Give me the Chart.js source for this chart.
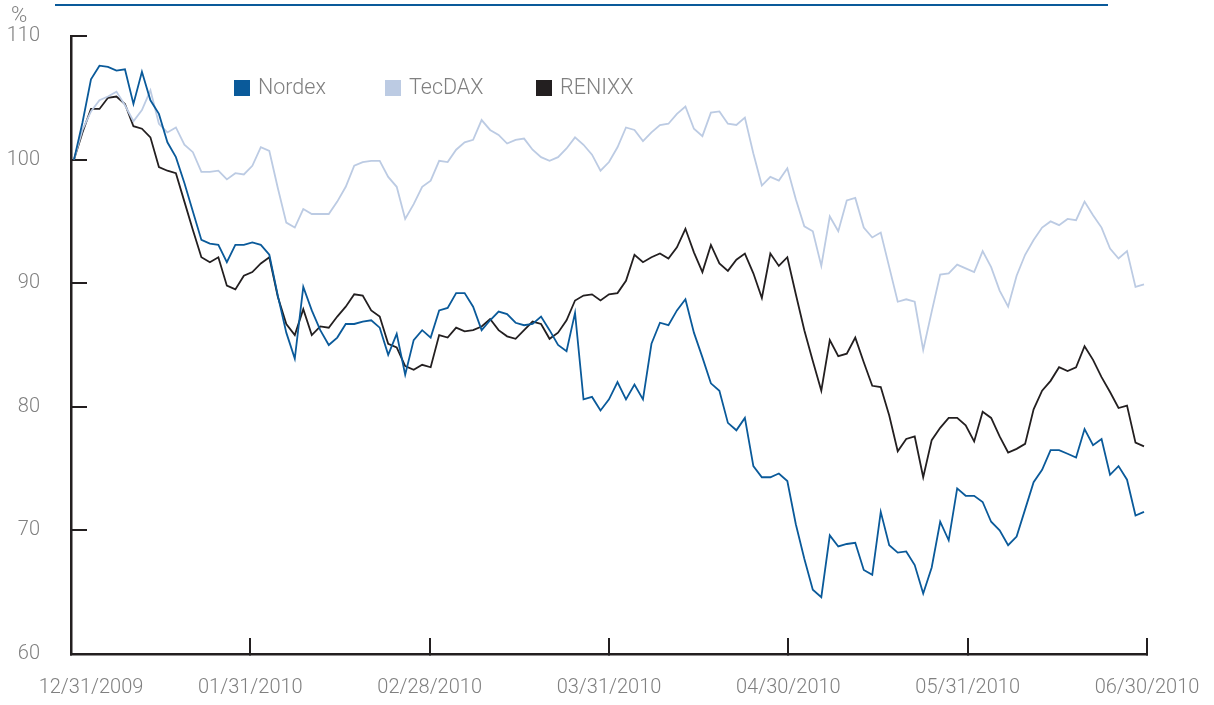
<!DOCTYPE html>
<html><head><meta charset="utf-8">
<script src="https://cdn.jsdelivr.net/npm/chart.js@4.4.1/dist/chart.umd.min.js"></script>
<style>html,body{margin:0;padding:0;background:#fff;}canvas{display:block;}</style>
</head><body>
<canvas id="c" width="1214" height="705"></canvas>
<script>
const xLabels = ['12/31/2009','01/31/2010','02/28/2010','03/31/2010','04/30/2010','05/31/2010','06/30/2010'];
const yTicks = [60,70,80,90,100,110];
const seriesNames = ['Nordex','TecDAX','RENIXX'];
const nordex = [100,103.0,106.5,107.6,107.5,107.2,107.3,104.5,107.1,104.8,103.7,101.4,100.2,98.1,95.8,93.5,93.2,93.1,91.7,93.1,
93.1,93.3,93.1,92.3,89.0,86.0,83.9,89.7,87.8,86.2,85.0,85.6,86.7,86.7,86.9,87.0,86.4,84.2,85.9,82.6,
85.4,86.2,85.6,87.8,88.0,89.2,89.2,88.1,86.2,87.0,87.7,87.5,86.8,86.6,86.7,87.3,86.2,85.0,84.5,87.6,
80.6,80.8,79.7,80.6,82.0,80.6,81.8,80.6,85.1,86.8,86.6,87.8,88.7,86.0,84.0,81.9,81.3,78.7,78.1,79.1,
75.2,74.3,74.3,74.6,74.0,70.5,67.7,65.2,64.6,69.6,68.7,68.9,69.0,66.8,66.4,71.5,68.8,68.2,68.3,67.2,
64.9,67.0,70.7,69.2,73.4,72.8,72.8,72.3,70.7,70.0,68.8,69.5,71.7,73.9,74.9,76.5,76.5,76.2,75.9,78.2,
76.9,77.4,74.5,75.2,74.1,71.2,71.5];
const tecdax = [100,102.4,103.9,104.8,105.1,105.5,104.4,103.1,104.0,105.6,102.9,102.2,102.6,101.2,100.6,99.0,99.0,99.1,98.4,98.9,
98.8,99.5,101.0,100.7,97.7,94.9,94.5,96.0,95.6,95.6,95.6,96.6,97.8,99.5,99.8,99.9,99.9,98.6,97.8,95.2,
96.4,97.8,98.3,99.9,99.8,100.8,101.4,101.6,103.2,102.4,102.0,101.3,101.6,101.7,100.8,100.2,99.9,100.2,100.9,101.8,
101.2,100.4,99.1,99.8,101.0,102.6,102.4,101.5,102.2,102.8,102.9,103.7,104.3,102.5,101.9,103.8,103.9,102.9,102.8,103.4,
100.5,97.9,98.6,98.3,99.3,96.8,94.6,94.2,91.4,95.4,94.2,96.7,96.9,94.5,93.7,94.1,91.3,88.5,88.7,88.5,
84.6,87.7,90.7,90.8,91.5,91.2,90.9,92.6,91.3,89.4,88.1,90.6,92.3,93.5,94.5,95.0,94.7,95.2,95.1,96.6,
95.5,94.5,92.8,92.0,92.6,89.7,89.9];
const renixx = [100,102.2,104.1,104.1,105.0,105.1,104.5,102.7,102.5,101.8,99.4,99.1,98.9,96.6,94.3,92.1,91.7,92.1,89.8,89.5,
90.6,90.9,91.6,92.1,88.9,86.7,85.8,87.9,85.8,86.5,86.4,87.3,88.1,89.1,89.0,87.8,87.3,85.1,84.8,83.3,
83.0,83.4,83.2,85.8,85.6,86.4,86.1,86.2,86.5,87.1,86.2,85.7,85.5,86.2,86.9,86.7,85.5,86.0,87.0,88.6,
89.0,89.1,88.6,89.1,89.2,90.2,92.3,91.7,92.1,92.4,92.0,92.9,94.4,92.5,90.9,93.1,91.6,91.0,91.9,92.4,
90.8,88.8,92.4,91.4,92.1,89.1,86.2,83.7,81.3,85.4,84.1,84.3,85.6,83.6,81.7,81.6,79.3,76.4,77.4,77.6,
74.3,77.3,78.3,79.1,79.1,78.5,77.2,79.6,79.1,77.6,76.3,76.6,77.0,79.8,81.3,82.1,83.2,82.9,83.2,84.9,
83.8,82.4,81.2,79.9,80.1,77.1,76.8];

const colors = ['#0a5a9a','#bccbe3','#231f20'];
const TXT = '#808080';
const FONT = 'Roboto, "Liberation Sans", Arial, sans-serif';
const n = nordex.length;
const xMin = -0.353, xMax = (n - 1) + 0.353;
const xTickPos = xLabels.map((_, k) => xMin + k * (xMax - xMin) / (xLabels.length - 1));

const toXY = arr => arr.map((v, i) => ({x: i, y: v}));

const extras = {
  id: 'extras',
  afterDraw(chart) {
    const ctx = chart.ctx;
    const xs = chart.scales.x;
    ctx.save();
    ctx.strokeStyle = '#0a5a9a';
    ctx.lineWidth = 2;
    ctx.beginPath(); ctx.moveTo(55, 5); ctx.lineTo(1108, 5); ctx.stroke();
    ctx.fillStyle = TXT;
    ctx.font = '300 22px ' + FONT;
    ctx.textAlign = 'left'; ctx.textBaseline = 'middle';
    ctx.fillText('%', 11, 16);
    ctx.font = '300 20px ' + FONT;
    ctx.textAlign = 'center';
    xLabels.forEach((lab, k) => {
      let px = xs.getPixelForValue(xTickPos[k]);
      if (k === 0) px += 20;
      ctx.fillText(lab, px, 688);
    });
    ctx.font = '300 21.5px ' + FONT;
    const lx = [234, 385, 536];
    chart.data.datasets.forEach((ds, i) => {
      ctx.fillStyle = ds.borderColor;
      ctx.fillRect(lx[i], 80, 16, 16);
      ctx.fillStyle = TXT;
      ctx.textAlign = 'left';
      ctx.fillText(ds.label, lx[i] + 24, 89);
    });
    ctx.restore();
  }
};

const zeroPad = s => { s.paddingTop = 0; s.paddingBottom = 0; s.paddingLeft = 0; s.paddingRight = 0; };

new Chart(document.getElementById('c'), {
  type: 'line',
  data: {
    datasets: [
      {label: seriesNames[0], data: toXY(nordex), borderColor: colors[0], borderWidth: 1.8},
      {label: seriesNames[1], data: toXY(tecdax), borderColor: colors[1], borderWidth: 1.8},
      {label: seriesNames[2], data: toXY(renixx), borderColor: colors[2], borderWidth: 1.8}
    ]
  },
  options: {
    responsive: false,
    animation: false,
    devicePixelRatio: 1,
    layout: {padding: {left: 0, top: 36, right: 67, bottom: 0}},
    elements: {point: {radius: 0}, line: {tension: 0}},
    plugins: {legend: {display: false}, tooltip: {enabled: false}},
    scales: {
      x: {
        type: 'linear', min: xMin, max: xMax,
        afterBuildTicks: s => { s.ticks = xTickPos.map(v => ({value: v})); },
        afterFit: s => { s.height = 51; zeroPad(s); },
        ticks: {display: false},
        grid: {drawOnChartArea: false, drawTicks: true, tickLength: -16, color: '#231f20', lineWidth: 2},
        border: {display: true, color: '#231f20', width: 2.5}
      },
      y: {
        min: 60, max: 110,
        afterBuildTicks: s => { s.ticks = yTicks.map(v => ({value: v})); },
        afterFit: s => { s.width = 71; zeroPad(s); },
        ticks: {color: TXT, padding: 47, font: {family: FONT, size: 20, weight: '300'}},
        grid: {drawOnChartArea: false, drawTicks: true, tickLength: -16, color: '#231f20', lineWidth: 2},
        border: {display: true, color: '#231f20', width: 2.5}
      }
    }
  },
  plugins: [extras]
});
</script>
</body></html>
